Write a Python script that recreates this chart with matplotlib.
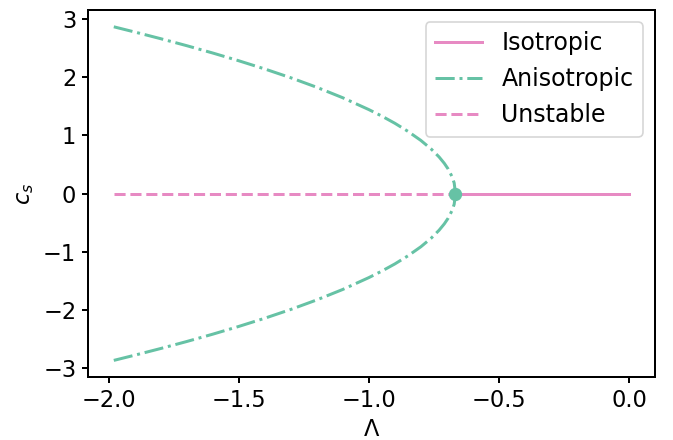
import matplotlib
matplotlib.use("Agg")
from matplotlib import pyplot as plt

# values
lam_aniso = [-1.98, -1.9, -1.8, -1.7, -1.6, -1.5, -1.4, -1.3, -1.2, -1.1, -1.0,
             -0.95, -0.9, -0.85, -0.8, -0.76, -0.73, -0.71, -0.695, -0.68, -0.672, -0.667]
c_upper = [2.865, 2.776, 2.661, 2.541, 2.415, 2.282, 2.141, 1.990, 1.826, 1.646, 1.443,
           1.331, 1.208, 1.070, 0.913, 0.764, 0.629, 0.520, 0.421, 0.289, 0.183, 0.0]
c_lower = [-2.865, -2.776, -2.661, -2.541, -2.415, -2.282, -2.141, -1.990, -1.826, -1.646, -1.443,
           -1.331, -1.208, -1.070, -0.913, -0.764, -0.629, -0.520, -0.421, -0.289, -0.183, 0.0]

lam_iso = [-0.667, 0.0]
c_iso = [0.0, 0.0]

lam_unstable = [-1.98, -0.667]
c_unstable = [0.0, 0.0]

lam_crit = -0.667
c_crit = 0.0

green = '#66c2a5'
pink = '#e78ac3'

plt.rcParams['font.size'] = 13.5
plt.rcParams['axes.linewidth'] = 1.2
plt.rcParams['xtick.major.width'] = 1.2
plt.rcParams['ytick.major.width'] = 1.2

fig = plt.figure(figsize=(673 / 120, 440 / 120), dpi=120)
ax = fig.add_axes([0.1308, 0.143, 0.973 - 0.1308, 0.977 - 0.143])

ax.plot(lam_iso, c_iso, color=pink, lw=1.8, label='Isotropic')
ax.plot(lam_aniso, c_upper, color=green, lw=1.8, ls='-.', label='Anisotropic')
ax.plot(lam_aniso, c_lower, color=green, lw=1.8, ls='-.')
ax.plot(lam_unstable, c_unstable, color=pink, lw=1.8, ls='--', label='Unstable')
ax.plot([lam_crit], [c_crit], 'o', color=green, markersize=7)

ax.set_xlabel(r'$\Lambda$')
ax.set_ylabel(r'$c_s$')
ax.legend(loc='upper right', fontsize=14.2)

fig.savefig('out.png', dpi=120)
